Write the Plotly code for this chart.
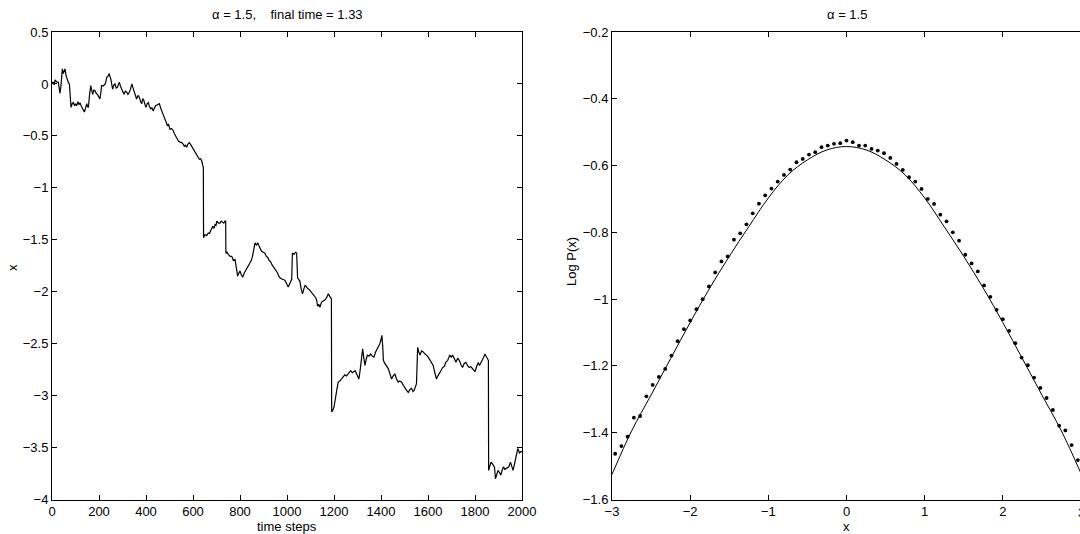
import plotly.graph_objects as go

# ---------------- data: left panel (Levy flight path) ----------------
t_steps = [0, 5, 10, 13, 20, 27, 30, 34, 38, 42, 44, 48, 51, 55, 60, 65, 70, 74, 78, 81, 86, 91, 96, 100,
           105, 110, 115, 119, 124, 129, 133, 138, 143, 148, 152, 155, 160, 165, 169, 173, 178, 183, 188,
           193, 198, 204, 208, 211, 218, 226, 230, 233, 238, 243, 247, 250, 254, 258, 263, 268, 273, 279,
           283, 287, 291, 296, 301, 306, 312, 318, 323, 329, 334, 340, 345, 350, 355, 360, 366, 372, 377,
           382, 386, 391, 396, 400, 405, 410, 415, 420, 425, 431, 436, 441, 449, 457, 462, 467, 474, 481,
           486, 491, 496, 502, 509, 516, 521, 526, 532, 538, 545, 552, 558, 563, 568, 573, 578, 584, 589,
           594, 599, 604, 610, 616, 621, 627, 632, 637, 641, 644, 645, 651, 658, 665, 670, 675, 680, 684,
           689, 694, 698, 701, 708, 715, 720, 726, 731, 736, 739, 740, 745, 750, 758, 765, 772, 779, 785,
           790, 795, 800, 806, 812, 818, 823, 830, 836, 842, 848, 853, 858, 864, 870, 876, 881, 886, 892,
           899, 906, 912, 918, 924, 930, 936, 942, 948, 954, 960, 965, 970, 980, 991, 998, 1005, 1012,
           1020, 1023, 1030, 1036, 1041, 1045, 1050, 1055, 1060, 1066, 1072, 1077, 1081, 1088, 1095, 1102,
           1109, 1116, 1123, 1127, 1130, 1135, 1140, 1144, 1147, 1154, 1161, 1168, 1172, 1176, 1181, 1186,
           1189, 1190, 1195, 1200, 1204, 1208, 1213, 1218, 1225, 1232, 1239, 1246, 1253, 1261, 1266, 1271,
           1278, 1285, 1290, 1296, 1301, 1306, 1311, 1315, 1319, 1322, 1327, 1332, 1337, 1342, 1349, 1356,
           1363, 1370, 1377, 1384, 1390, 1395, 1400, 1404, 1408, 1410, 1416, 1421, 1426, 1431, 1438, 1445,
           1452, 1459, 1466, 1473, 1480, 1488, 1495, 1502, 1509, 1516, 1523, 1530, 1536, 1541, 1546, 1551,
           1555, 1556, 1561, 1566, 1573, 1580, 1587, 1594, 1601, 1608, 1615, 1622, 1629, 1636, 1642, 1648,
           1655, 1662, 1669, 1676, 1684, 1693, 1699, 1705, 1712, 1719, 1726, 1733, 1740, 1747, 1754, 1761,
           1768, 1775, 1782, 1790, 1795, 1800, 1807, 1814, 1819, 1824, 1828, 1832, 1837, 1842, 1847, 1852,
           1857, 1858, 1863, 1868, 1875, 1883, 1887, 1892, 1898, 1904, 1910, 1915, 1921, 1927, 1933, 1938,
           1944, 1951, 1956, 1962, 1968, 1974, 1978, 1982, 1986, 1989, 1994, 2000]
x_path = [0.0, 0.02, -0.01, 0.04, 0.02, 0.016, -0.03, -0.09, -0.02, 0.10, 0.145, 0.10, 0.13, 0.145, 0.08,
          0.03, 0.01, 0.0, -0.12, -0.226, -0.19, -0.18, -0.21, -0.19, -0.21, -0.17, -0.20, -0.18, -0.21,
          -0.226, -0.25, -0.27, -0.22, -0.19, -0.22, -0.226, -0.10, -0.016, -0.06, -0.10, -0.06, -0.065,
          -0.09, -0.10, -0.12, -0.145, -0.08, -0.016, -0.02, 0.0, 0.03, 0.065, 0.07, 0.10, 0.07, 0.05, 0.0,
          -0.05, -0.01, 0.0, -0.04, -0.03, 0.0, 0.016, -0.02, -0.05, -0.07, -0.10, -0.07, -0.08, -0.10,
          -0.08, -0.05, 0.0, -0.04, -0.08, -0.12, -0.145, -0.11, -0.13, -0.17, -0.19, -0.14, -0.16, -0.20,
          -0.226, -0.19, -0.18, -0.22, -0.24, -0.23, -0.26, -0.23, -0.21, -0.20, -0.19, -0.23, -0.27, -0.30,
          -0.34, -0.37, -0.40, -0.39, -0.435, -0.43, -0.45, -0.48, -0.50, -0.52, -0.55, -0.56, -0.565,
          -0.58, -0.60, -0.59, -0.61, -0.58, -0.565, -0.58, -0.60, -0.62, -0.63, -0.66, -0.68, -0.71,
          -0.725, -0.72, -0.74, -0.78, -0.806, -1.48, -1.45, -1.46, -1.435, -1.44, -1.42, -1.40, -1.37,
          -1.39, -1.355, -1.36, -1.32, -1.34, -1.34, -1.32, -1.33, -1.34, -1.32, -1.32, -1.63, -1.62, -1.64,
          -1.66, -1.66, -1.70, -1.69, -1.78, -1.85, -1.82, -1.80, -1.84, -1.86, -1.82, -1.80, -1.78, -1.75,
          -1.72, -1.70, -1.66, -1.60, -1.53, -1.55, -1.53, -1.56, -1.58, -1.61, -1.62, -1.63, -1.66, -1.67,
          -1.70, -1.71, -1.74, -1.76, -1.79, -1.80, -1.82, -1.85, -1.866, -1.88, -1.89, -1.92, -1.955,
          -1.92, -1.88, -1.627, -1.64, -1.62, -1.627, -1.866, -1.88, -1.90, -1.97, -2.02, -1.97, -1.94,
          -1.946, -1.97, -1.98, -2.0, -2.01, -2.03, -2.06, -2.09, -2.14, -2.12, -2.15, -2.12, -2.10, -2.09,
          -2.08, -2.06, -2.03, -2.02, -2.04, -2.06, -2.07, -3.156, -3.14, -3.11, -3.04, -2.98, -2.93, -2.87,
          -2.86, -2.84, -2.82, -2.80, -2.81, -2.79, -2.77, -2.76, -2.78, -2.77, -2.76, -2.79, -2.81, -2.84,
          -2.76, -2.69, -2.62, -2.55, -2.64, -2.71, -2.65, -2.61, -2.62, -2.60, -2.62, -2.63, -2.58, -2.55,
          -2.52, -2.50, -2.46, -2.42, -2.55, -2.66, -2.69, -2.71, -2.72, -2.74, -2.79, -2.84, -2.81, -2.79,
          -2.84, -2.87, -2.86, -2.87, -2.90, -2.93, -2.95, -2.97, -2.94, -2.93, -2.96, -2.95, -2.92,
          -2.885, -2.60, -2.535, -2.58, -2.61, -2.57, -2.58, -2.60, -2.61, -2.63, -2.66, -2.68, -2.71,
          -2.78, -2.84, -2.81, -2.79, -2.76, -2.73, -2.72, -2.68, -2.66, -2.61, -2.63, -2.61, -2.65, -2.68,
          -2.64, -2.66, -2.70, -2.73, -2.69, -2.68, -2.71, -2.73, -2.72, -2.74, -2.76, -2.77, -2.72, -2.68,
          -2.71, -2.69, -2.67, -2.65, -2.63, -2.60, -2.62, -2.65, -2.66, -3.72, -3.67, -3.64, -3.66, -3.69,
          -3.80, -3.76, -3.72, -3.74, -3.765, -3.72, -3.685, -3.71, -3.70, -3.69, -3.685, -3.64, -3.68,
          -3.72, -3.66, -3.60, -3.55, -3.51, -3.53, -3.555, -3.54, -3.54]

left_xticks = [0, 200, 400, 600, 800, 1000, 1200, 1400, 1600, 1800, 2000]
left_yticks = [0.5, 0, -0.5, -1, -1.5, -2, -2.5, -3, -3.5, -4]

# ---------------- data: right panel (log density) ----------------
curve_x = [-3.0, -2.75, -2.5, -2.25, -2.0, -1.75, -1.5, -1.25, -1.0, -0.75, -0.5, -0.25, 0.0,
           0.25, 0.5, 0.75, 1.0, 1.25, 1.5, 1.75, 2.0, 2.25, 2.5, 2.75, 3.0]
curve_logp = [-1.525, -1.395, -1.287, -1.178, -1.07, -0.967, -0.872, -0.783, -0.697, -0.628, -0.583,
              -0.553, -0.543, -0.553, -0.583, -0.628, -0.697, -0.783, -0.872, -0.967, -1.07, -1.178,
              -1.287, -1.395, -1.522]

dots_x = [-2.96, -2.88, -2.80, -2.72, -2.64, -2.56, -2.48, -2.40, -2.32, -2.24, -2.16, -2.08, -2.00,
          -1.92, -1.84, -1.76, -1.68, -1.60, -1.52, -1.44, -1.36, -1.28, -1.20, -1.12, -1.04, -0.96,
          -0.88, -0.80, -0.72, -0.64, -0.56, -0.48, -0.40, -0.32, -0.24, -0.16, -0.08, 0.00, 0.08, 0.16,
          0.24, 0.32, 0.40, 0.48, 0.56, 0.64, 0.72, 0.80, 0.88, 0.96, 1.04, 1.12, 1.20, 1.28, 1.36, 1.44,
          1.52, 1.60, 1.68, 1.76, 1.84, 1.92, 2.00, 2.08, 2.16, 2.24, 2.32, 2.40, 2.48, 2.56, 2.64, 2.72,
          2.80, 2.88, 2.96]
dots_logp = [-1.463, -1.44, -1.412, -1.355, -1.35, -1.291, -1.257, -1.233, -1.209, -1.169, -1.126,
             -1.09, -1.064, -1.03, -1.0, -0.962, -0.92, -0.887, -0.872, -0.822, -0.803, -0.776, -0.743,
             -0.714, -0.689, -0.669, -0.648, -0.628, -0.612, -0.59, -0.58, -0.567, -0.56, -0.545, -0.54,
             -0.535, -0.533, -0.525, -0.53, -0.54, -0.54, -0.55, -0.555, -0.563, -0.577, -0.595, -0.613,
             -0.635, -0.648, -0.67, -0.70, -0.715, -0.747, -0.767, -0.80, -0.825, -0.867, -0.893, -0.917,
             -0.959, -0.993, -1.032, -1.06, -1.095, -1.132, -1.175, -1.198, -1.235, -1.266, -1.296,
             -1.332, -1.379, -1.393, -1.437, -1.482]

right_xticks = [-3, -2, -1, 0, 1, 2, 3]
right_yticks = [-0.2, -0.4, -0.6, -0.8, -1.0, -1.2, -1.4, -1.6]

left_title = "\u03b1 = 1.5,\u00a0\u00a0\u00a0\u00a0final time = 1.33"
right_title = "\u03b1 = 1.5"

# ---------------- figure ----------------
W, H = 1080, 534
FONT = "Liberation Sans, Arial, Helvetica, sans-serif"
fig = go.Figure()

fig.add_trace(go.Scatter(x=t_steps, y=x_path, mode="lines",
                         line=dict(color="black", width=1.2), xaxis="x", yaxis="y",
                         showlegend=False, hoverinfo="skip"))
fig.add_trace(go.Scatter(x=curve_x, y=curve_logp, mode="lines",
                         line=dict(color="black", width=1, shape="spline", smoothing=1.0),
                         xaxis="x2", yaxis="y2", showlegend=False, hoverinfo="skip"))
fig.add_trace(go.Scatter(x=dots_x, y=dots_logp, mode="markers",
                         marker=dict(color="black", size=3.8), xaxis="x2", yaxis="y2",
                         showlegend=False, hoverinfo="skip", cliponaxis=False))

y_top = 1 - 32 / H
y_bot = 1 - 499.5 / H
axis_common = dict(showline=True, linecolor="black", linewidth=1, ticks="inside", ticklen=5,
                   tickwidth=1, tickcolor="black", showgrid=False, zeroline=False, automargin=False,
                   tickfont=dict(family=FONT, size=13, color="black"))

px_per_unit = (1081 - 612) / 6.0
right_max = -3 + (W - 612) / px_per_unit

fig.update_layout(
    width=W, height=H, margin=dict(l=0, r=0, t=0, b=0, pad=0),
    paper_bgcolor="white", plot_bgcolor="white",
    font=dict(family=FONT, size=13, color="black"),
    xaxis=dict(domain=[52 / W, 522 / W], range=[0, 2000], tickmode="array", tickvals=left_xticks,
               anchor="y", mirror="ticks", **axis_common),
    yaxis=dict(domain=[y_bot, y_top], range=[-4, 0.5], tickmode="array", tickvals=left_yticks,
               anchor="x", mirror="ticks", **axis_common),
    xaxis2=dict(domain=[612 / W, 1.0], range=[-3, right_max], tickmode="array", tickvals=right_xticks,
                anchor="y2", mirror="ticks", **axis_common),
    yaxis2=dict(domain=[y_bot, y_top], range=[-1.6, -0.2], tickmode="array", tickvals=right_yticks,
                anchor="x2", mirror=False, **axis_common),
)

annots = [
    dict(text=left_title, x=287 / W, y=1 - 15 / H),
    dict(text=right_title, x=846.5 / W, y=1 - 15 / H),
    dict(text="time steps", x=287 / W, y=1 - 526 / H),
    dict(text="x", x=846.5 / W, y=1 - 526 / H),
    dict(text="3", x=1081 / W, y=1 - 512 / H),
]
for a in annots:
    fig.add_annotation(xref="paper", yref="paper", showarrow=False, xanchor="center", yanchor="middle",
                       font=dict(family=FONT, size=13, color="black"), **a)
fig.add_annotation(xref="paper", yref="paper", x=12 / W, y=1 - 268 / H, text="x", textangle=-90,
                   showarrow=False, xanchor="center", yanchor="middle",
                   font=dict(family=FONT, size=13, color="black"))
fig.add_annotation(xref="paper", yref="paper", x=571 / W, y=1 - 262 / H, text="Log P(x)", textangle=-90,
                   showarrow=False, xanchor="center", yanchor="middle",
                   font=dict(family=FONT, size=13, color="black"))

fig.write_html("out.html", config={"displayModeBar": False, "staticPlot": True},
               post_script="document.body.style.margin='0';document.body.style.overflow='hidden';")
